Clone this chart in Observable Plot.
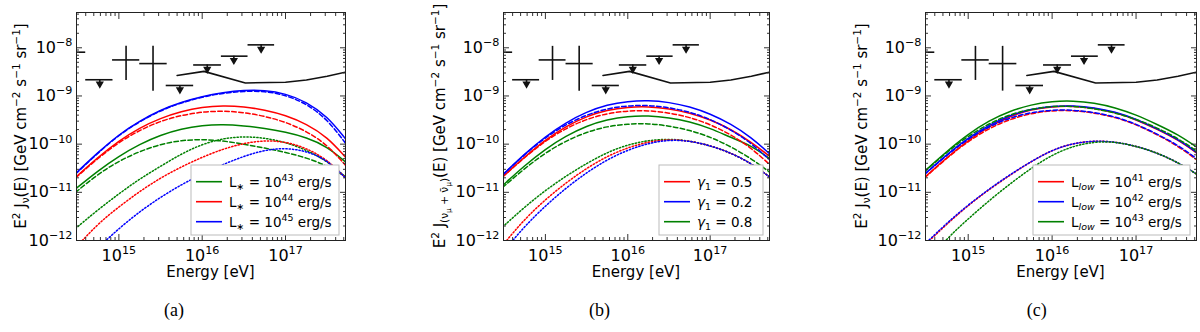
<!DOCTYPE html>
<html><head><meta charset="utf-8">
<script src="https://cdn.jsdelivr.net/npm/d3@7"></script>
<script src="https://cdn.jsdelivr.net/npm/@observablehq/plot@0.6"></script>
<style>
body{margin:0;background:#fff;}
#root{position:relative;width:1200px;height:332px;overflow:hidden;background:#fff;}
.panel{position:absolute;top:0;}
.cap{position:absolute;top:300px;font-family:"Liberation Serif";font-size:18px;transform:translateX(-50%);color:#000;}
</style></head><body><div id="root"></div><script>
// ---------- data (log10 of E^2 J) ----------
const logE = [14.48,14.75,15.0,15.25,15.5,15.75,16.0,16.25,16.5,16.75,17.0,17.25,17.5,17.72];

// panel (a): L* variation
const aGreenSolid  = [-10.93,-10.55,-10.25,-10.00,-9.81,-9.68,-9.61,-9.59,-9.62,-9.67,-9.75,-9.86,-10.05,-10.37];
const aGreenDashed = [-11.00,-10.62,-10.35,-10.15,-10.00,-9.92,-9.90,-9.93,-10.00,-10.08,-10.17,-10.28,-10.45,-10.68];
const aGreenDotted = [-11.75,-11.36,-11.03,-10.72,-10.46,-10.20,-10.00,-9.88,-9.84,-9.87,-9.96,-10.12,-10.35,-10.68];
const aRedSolid    = [-10.69,-10.27,-9.93,-9.66,-9.46,-9.32,-9.23,-9.20,-9.22,-9.29,-9.40,-9.58,-9.85,-10.27];
const aRedDashed   = [-10.70,-10.29,-9.96,-9.71,-9.52,-9.40,-9.33,-9.31,-9.34,-9.42,-9.54,-9.73,-10.01,-10.44];
const aRedDotted   = [-12.15,-11.65,-11.30,-10.98,-10.70,-10.47,-10.27,-10.10,-9.98,-9.92,-9.95,-10.08,-10.32,-10.70];
const aBlueSolid   = [-10.61,-10.17,-9.80,-9.52,-9.29,-9.13,-9.01,-8.93,-8.88,-8.88,-8.95,-9.12,-9.42,-9.89];
const aBlueDashed  = [-10.62,-10.18,-9.81,-9.53,-9.30,-9.14,-9.02,-8.94,-8.90,-8.90,-8.98,-9.16,-9.48,-9.98];
const aBlueDotted  = [-12.60,-12.15,-11.75,-11.40,-11.10,-10.84,-10.62,-10.42,-10.25,-10.12,-10.08,-10.14,-10.33,-10.70];

// panel (b): gamma_1 variation
const bRedSolid    = [-10.68,-10.26,-9.91,-9.63,-9.42,-9.29,-9.23,-9.22,-9.26,-9.35,-9.49,-9.69,-9.96,-10.25];
const bRedDashed   = [-10.68,-10.27,-9.93,-9.67,-9.48,-9.36,-9.31,-9.30,-9.35,-9.44,-9.59,-9.80,-10.08,-10.42];
const bRedDotted   = [-12.10,-11.55,-11.15,-10.80,-10.50,-10.25,-10.07,-9.95,-9.90,-9.93,-10.03,-10.18,-10.40,-10.68];
const bBlueSolid   = [-10.64,-10.20,-9.84,-9.55,-9.33,-9.18,-9.11,-9.09,-9.13,-9.22,-9.37,-9.58,-9.86,-10.20];
const bBlueDashed  = [-10.64,-10.21,-9.86,-9.59,-9.39,-9.26,-9.20,-9.19,-9.24,-9.33,-9.48,-9.70,-9.98,-10.32];
const bBlueDotted  = [-12.25,-11.70,-11.28,-10.91,-10.59,-10.32,-10.12,-9.98,-9.91,-9.93,-10.03,-10.18,-10.40,-10.68];
const bGreenSolid  = [-10.86,-10.44,-10.10,-9.83,-9.62,-9.49,-9.42,-9.41,-9.45,-9.53,-9.67,-9.86,-10.03,-10.30];
const bGreenDashed = [-10.90,-10.50,-10.18,-9.93,-9.75,-9.63,-9.58,-9.57,-9.62,-9.71,-9.85,-10.05,-10.30,-10.58];
const bGreenDotted = [-11.72,-11.30,-10.96,-10.66,-10.40,-10.17,-10.01,-9.92,-9.89,-9.93,-10.03,-10.18,-10.40,-10.68];

// panel (c): L_low variation
const cRedSolid    = [-10.69,-10.27,-9.92,-9.63,-9.42,-9.28,-9.22,-9.21,-9.25,-9.34,-9.49,-9.69,-9.91,-10.18];
const cRedDashed   = [-10.70,-10.28,-9.94,-9.67,-9.48,-9.36,-9.30,-9.30,-9.35,-9.44,-9.59,-9.80,-10.04,-10.32];
const cRedDotted   = [-12.10,-11.65,-11.27,-10.94,-10.64,-10.36,-10.12,-9.98,-9.93,-9.95,-10.04,-10.18,-10.38,-10.62];
const cBlueSolid   = [-10.62,-10.21,-9.87,-9.60,-9.40,-9.27,-9.21,-9.20,-9.24,-9.33,-9.48,-9.68,-9.90,-10.17];
const cBlueDashed  = [-10.63,-10.22,-9.89,-9.63,-9.45,-9.34,-9.29,-9.29,-9.34,-9.43,-9.58,-9.79,-10.02,-10.30];
const cBlueDotted  = [-12.08,-11.63,-11.26,-10.93,-10.63,-10.36,-10.12,-9.98,-9.93,-9.95,-10.04,-10.18,-10.38,-10.62];
const cGreenSolid  = [-10.56,-10.14,-9.79,-9.51,-9.31,-9.18,-9.11,-9.10,-9.14,-9.24,-9.39,-9.59,-9.80,-10.06];
const cGreenDashed = [-10.57,-10.16,-9.83,-9.57,-9.38,-9.27,-9.21,-9.21,-9.26,-9.35,-9.48,-9.66,-9.88,-10.14];
const cGreenDotted = [-12.50,-11.95,-11.55,-11.17,-10.82,-10.50,-10.22,-10.04,-9.95,-9.95,-10.04,-10.18,-10.38,-10.62];

// measured points / upper limits / sensitivity (same in all panels)
const ulLo  = [1.9e14, 4.0e14, 3.7e15, 7.9e15, 1.7e16, 3.55e16];
const ulHi  = [4.0e14, 8.5e14, 7.9e15, 1.7e16, 3.55e16, 7.4e16];
const ulMid = [2.75e14, 5.9e14, 5.4e15, 1.15e16, 2.4e16, 5.1e16];
const ulVal = [8.1e-9, 2.17e-9, 1.65e-9, 4.4e-9, 6.7e-9, 1.15e-8];

const ptE   = [1.22e15, 2.57e15];
const ptElo = [8.4e14, 1.78e15];
const ptEhi = [1.78e15, 3.8e15];
const ptJ   = [5.6e-9, 4.7e-9];
const ptJlo = [2.1e-9, 1.26e-9];
const ptJhi = [1.07e-8, 1.07e-8];

const sensE = [5.0e15, 1.05e16, 3.3e16, 1.0e17, 1.78e17, 3.16e17, 5.25e17];
const sensJ = [2.66e-9, 3.24e-9, 1.86e-9, 1.93e-9, 2.14e-9, 2.57e-9, 3.12e-9];

const xMajor = [1e15, 1e16, 1e17];
const yMajor = [1e-12, 1e-11, 1e-10, 1e-9, 1e-8];

// ---------- layout ----------
const FONT = "DejaVu Sans";
const W = 400, H = 280, MT = 12, MB = 40;
const xDomain = [3.1e14, 5.25e17];
const yDomain = [1e-12, 5.4e-8];
const COL = {red: "#ff0000", blue: "#0000ff", green: "#008000"};
const DASH = {solid: null, dashed: "4.5,2.5", dotted: "1.3,2"};

const xMinor = [], yMinor = [];
for (let n = 14; n <= 17; n++) for (let k = 2; k <= 9; k++) { const v = k * 10 ** n; if (v > xDomain[0] && v < xDomain[1]) xMinor.push(v); }
for (let n = -12; n <= -8; n++) for (let k = 2; k <= 9; k++) { const v = k * 10 ** n; if (v > yDomain[0] && v < yDomain[1]) yMinor.push(v); }

const curve = vals => logE.map((l, i) => ({E: 10 ** l, J: 10 ** vals[i]}));
const fmtPow = d => "10^" + String(Math.round(Math.log10(d))).replace("-", "\u2212");

function rich(sel, parts, size) {
  let cur = 0;
  for (const [t, lvl, it] of parts) {
    const sz = lvl === 0 ? size : (Math.abs(lvl) === 1 ? size * 0.7 : size * 0.5);
    const off = lvl === 0 ? 0 : lvl === 1 ? -size * 0.42 : lvl === -1 ? size * 0.22 : size * 0.42;
    const ts = sel.append("tspan").text(t).attr("font-size", sz).attr("dy", off - cur);
    if (it) ts.attr("font-style", "italic");
    cur = off;
  }
}

const ylabTail = [["(E) [GeV cm", 0], ["\u22122", 1], [" s", 0], ["\u22121", 1], [" sr", 0], ["\u22121", 1], ["]", 0]];
const panels = [
  {left: 0, ml: 76, mr: 55, ylabX: 26, cap: "(a)", capX: 174, legW: 148,
   ylabel: [["E", 0], ["2", 1], [" J", 0], ["\u03bd", -1], ...ylabTail],
   series: [
     [aGreenSolid, "green", "solid"], [aGreenDashed, "green", "dashed"], [aGreenDotted, "green", "dotted"],
     [aRedSolid, "red", "solid"], [aRedDashed, "red", "dashed"], [aRedDotted, "red", "dotted"],
     [aBlueSolid, "blue", "solid"], [aBlueDashed, "blue", "dashed"], [aBlueDotted, "blue", "dotted"]],
   legend: [
     ["green", [["L", 0], ["\u2217", -1], [" = 10", 0], ["43", 1], [" erg/s", 0]]],
     ["red",   [["L", 0], ["\u2217", -1], [" = 10", 0], ["44", 1], [" erg/s", 0]]],
     ["blue",  [["L", 0], ["\u2217", -1], [" = 10", 0], ["45", 1], [" erg/s", 0]]]]},
  {left: 400, ml: 103, mr: 31, ylabX: 45, cap: "(b)", capX: 599.5, legW: 104,
   ylabel: [["E", 0], ["2", 1], [" J", 0], ["(\u03bd", -1], ["\u03bc", -2], [" + \u03bd\u0304", -1], ["\u03bc", -2], [")", -1], ...ylabTail],
   series: [
     [bGreenSolid, "green", "solid"], [bGreenDashed, "green", "dashed"], [bGreenDotted, "green", "dotted"],
     [bRedSolid, "red", "solid"], [bRedDashed, "red", "dashed"], [bRedDotted, "red", "dotted"],
     [bBlueSolid, "blue", "solid"], [bBlueDashed, "blue", "dashed"], [bBlueDotted, "blue", "dotted"]],
   legend: [
     ["red",   [["\u03b3", 0, true], ["1", -1], [" = 0.5", 0]]],
     ["blue",  [["\u03b3", 0, true], ["1", -1], [" = 0.2", 0]]],
     ["green", [["\u03b3", 0, true], ["1", -1], [" = 0.8", 0]]]]},
  {left: 800, ml: 125, mr: 4, ylabX: 67, cap: "(c)", capX: 1036.7, legW: 157,
   ylabel: [["E", 0], ["2", 1], [" J", 0], ["\u03bd", -1], ...ylabTail],
   series: [
     [cRedSolid, "red", "solid"], [cRedDashed, "red", "dashed"], [cRedDotted, "red", "dotted"],
     [cBlueSolid, "blue", "solid"], [cBlueDashed, "blue", "dashed"], [cBlueDotted, "blue", "dotted"],
     [cGreenSolid, "green", "solid"], [cGreenDashed, "green", "dashed"], [cGreenDotted, "green", "dotted"]],
   legend: [
     ["red",   [["L", 0], ["low", -1, true], [" = 10", 0], ["41", 1], [" erg/s", 0]]],
     ["blue",  [["L", 0], ["low", -1, true], [" = 10", 0], ["42", 1], [" erg/s", 0]]],
     ["green", [["L", 0], ["low", -1, true], [" = 10", 0], ["43", 1], [" erg/s", 0]]]]}
];

const root = document.getElementById("root");
const ulIdx = d3.range(ulVal.length), ptIdx = d3.range(ptE.length);
const BLK = "#111";

for (const p of panels) {
  const tick = (data, anchor, size) => {
    const o = {anchor, tickSize: size, tickFormat: () => "", label: null, stroke: "#333"};
    if (anchor === "bottom") o.dy = -size; if (anchor === "top") o.dy = size;
    if (anchor === "left") o.dx = size; if (anchor === "right") o.dx = -size;
    return (anchor === "bottom" || anchor === "top") ? Plot.axisX(data, o) : Plot.axisY(data, o);
  };
  const marks = [
    ...p.series.map(([vals, c, st]) => Plot.line(curve(vals), {x: "E", y: "J", stroke: COL[c], strokeWidth: 1.5, strokeDasharray: DASH[st], curve: "basis", clip: true})),
    Plot.line(sensE.map((e, i) => ({E: e, J: sensJ[i]})), {x: "E", y: "J", stroke: BLK, strokeWidth: 1.6, clip: true}),
    Plot.ruleY(ulIdx, {y: i => ulVal[i], x1: i => ulLo[i], x2: i => ulHi[i], stroke: BLK, strokeWidth: 1.6, clip: true}),
    Plot.ruleX(ulIdx, {x: i => ulMid[i], y1: i => ulVal[i], y2: i => ulVal[i] * 0.83, stroke: BLK, strokeWidth: 1.6, clip: true}),
    Plot.dot(ulIdx, {x: i => ulMid[i], y: i => ulVal[i] * 0.82, symbol: "triangle", rotate: 180, r: 2.1, fill: BLK, stroke: BLK, clip: true}),
    Plot.ruleY(ptIdx, {y: i => ptJ[i], x1: i => ptElo[i], x2: i => ptEhi[i], stroke: BLK, strokeWidth: 1.6, clip: true}),
    Plot.ruleX(ptIdx, {x: i => ptE[i], y1: i => ptJlo[i], y2: i => ptJhi[i], stroke: BLK, strokeWidth: 1.6, clip: true}),
    tick(xMajor, "bottom", 6), tick(xMinor, "bottom", 3), tick(xMajor, "top", 6), tick(xMinor, "top", 3),
    tick(yMajor, "left", 6), tick(yMinor, "left", 3), tick(yMajor, "right", 6), tick(yMinor, "right", 3),
    Plot.axisX(xMajor, {anchor: "bottom", tickSize: 0, tickPadding: 9, tickFormat: fmtPow, label: null, fontSize: 16}),
    Plot.axisY(yMajor, {anchor: "left", tickSize: 0, tickPadding: 4, tickFormat: fmtPow, label: null, fontSize: 16}),
    Plot.frame({stroke: "#222", strokeWidth: 1})
  ];
  const svg = Plot.plot({
    width: W, height: H, marginLeft: p.ml, marginRight: p.mr, marginTop: MT, marginBottom: MB,
    x: {type: "log", domain: xDomain}, y: {type: "log", domain: yDomain},
    style: {background: "transparent", fontFamily: FONT, fontSize: "15px", color: "#000", overflow: "visible"},
    marks
  });
  const s = d3.select(svg);
  s.selectAll('g[aria-label="x-axis tick label"] text, g[aria-label="y-axis tick label"] text').each(function () {
    const t = this.textContent;
    if (!t || t.indexOf("^") < 0) return;
    const [b, e] = t.split("^");
    this.textContent = "";
    rich(d3.select(this), [[b, 0], [e, 1]], 16);
  });
  const fl = p.ml, fr = W - p.mr, fb = H - MB, ft = MT;
  // x label
  s.append("text").attr("x", (fl + fr) / 2).attr("y", 277).attr("text-anchor", "middle")
    .attr("font-family", FONT).attr("font-size", 15).attr("fill", "#000").text("Energy [eV]");
  // y label
  const yl = s.append("text").attr("transform", `translate(${p.ylabX},${(ft + fb) / 2}) rotate(-90)`)
    .attr("text-anchor", "middle").attr("font-family", FONT).attr("fill", "#000").style("white-space", "pre");
  rich(yl, p.ylabel, 15);
  // legend
  const bx = fr - 6 - p.legW, by = fb - 5 - 70;
  const lg = s.append("g");
  lg.append("rect").attr("x", bx).attr("y", by).attr("width", p.legW).attr("height", 70)
    .attr("fill", "#fff").attr("stroke", "#bbb").attr("stroke-width", 1);
  p.legend.forEach(([c, parts], i) => {
    const yy = by + 16.7 + i * 20;
    lg.append("line").attr("x1", bx + 5).attr("x2", bx + 31).attr("y1", yy).attr("y2", yy)
      .attr("stroke", COL[c]).attr("stroke-width", 1.6);
    const tx = lg.append("text").attr("x", bx + 38).attr("y", yy + 5).attr("font-family", FONT)
      .attr("text-anchor", "start").attr("fill", "#000").style("white-space", "pre");
    rich(tx, parts, 13.5);
  });
  const div = document.createElement("div");
  div.className = "panel"; div.style.left = p.left + "px";
  div.appendChild(svg);
  root.appendChild(div);
  const cap = document.createElement("div");
  cap.className = "cap"; cap.style.left = p.capX + "px"; cap.textContent = p.cap;
  root.appendChild(cap);
}
</script></body></html>
